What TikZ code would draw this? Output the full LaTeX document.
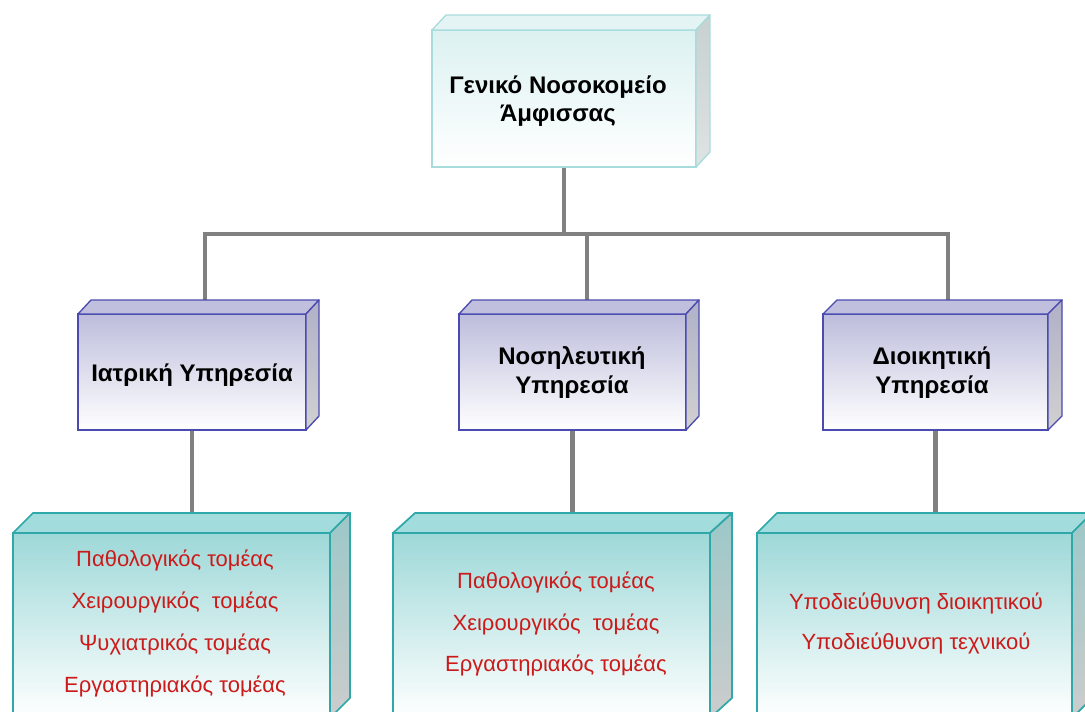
\documentclass[tikz,border=0pt]{standalone}
\usepackage{fontspec}
\setmainfont{Liberation Sans}
\usetikzlibrary{calc}
\pgfdeclarelayer{bg}
\pgfsetlayers{bg,main}
\definecolor{conncol}{HTML}{808080}
\definecolor{redtxt}{HTML}{CC1A1A}
\definecolor{topedge}{HTML}{A8DCDC}
\definecolor{topfill}{HTML}{DCF1F1}
\definecolor{topface}{HTML}{E4F4F4}
\definecolor{topside}{HTML}{C8D0D0}
\definecolor{midedge}{HTML}{4A4AB0}
\definecolor{midfill}{HTML}{BDBDDC}
\definecolor{midface}{HTML}{C0C0DE}
\definecolor{midside}{HTML}{B0B0C8}
\definecolor{lowedge}{HTML}{2EA8A8}
\definecolor{lowfill}{HTML}{9ED8D8}
\definecolor{lowface}{HTML}{A2DCDC}
\definecolor{lowside}{HTML}{9CC8C8}
\tikzset{
  sz/.style 2 args={minimum width=#1*0.75pt,minimum height=#2*0.75pt},
  front/.style={inner sep=0pt,outer sep=0pt,line width=1pt},
  topbox/.style={front,draw=topedge,top color=topfill,bottom color=white},
  midbox/.style={front,draw=midedge,top color=midfill,bottom color=white},
  lowbox/.style={front,draw=lowedge,line width=1.3pt,top color=lowfill,bottom color=white},
  topboxT/.style={draw=topedge,fill=topface,line width=1pt,line join=round},
  topboxS/.style={draw=topedge,top color=topside,bottom color=topside!60,line width=1pt,line join=round},
  midboxT/.style={draw=midedge,fill=midface,line width=1pt,line join=round},
  midboxS/.style={draw=midedge,top color=midside,bottom color=black!18,line width=1pt,line join=round},
  lowboxT/.style={draw=lowedge,fill=lowface,line width=1.3pt,line join=round},
  lowboxS/.style={draw=lowedge,top color=lowside,bottom color=black!20,line width=1.3pt,line join=round},
  conn/.style={draw=conncol,line width=3.2pt},
  btitle/.style={font=\bfseries\fontsize{18pt}{21.5pt}\selectfont,align=center,inner sep=0pt},
  rtext/.style={text=redtxt,align=center,inner sep=0pt},
}
\newcommand\cubefaces[4]{%
  \path[#4T] (#1.north west) -- ++(#2,-#3) -- ($(#1.north east)+(#2*0.75pt,#3*0.75pt)$) -- (#1.north east) -- cycle;
  \path[#4S] (#1.north east) -- ($(#1.north east)+(#2*0.75pt,#3*0.75pt)$) -- ($(#1.south east)+(#2*0.75pt,#3*0.75pt)$) -- (#1.south east) -- cycle;}
\begin{document}
\begin{tikzpicture}[x=0.75pt,y=-0.75pt]
\useasboundingbox (0,0) rectangle (1085,711);
% front faces
\node[topbox,sz={264}{137}] (top) at (564,98.5) {};
\node[midbox,sz={228}{116}] (med) at (192,372) {};
\node[midbox,sz={227}{116}] (nur) at (572.5,372) {};
\node[midbox,sz={225}{116}] (adm) at (935.5,372) {};
\node[lowbox,sz={317}{185}] (medsub) at (171.5,625.5) {};
\node[lowbox,sz={317}{185}] (nursub) at (551.5,625.5) {};
\node[lowbox,sz={315}{185}] (admsub) at (914.5,625.5) {};
% top and side faces
\cubefaces{top}{14}{15}{topbox}
\cubefaces{med}{13}{14}{midbox}
\cubefaces{nur}{13}{14}{midbox}
\cubefaces{adm}{14}{14}{midbox}
\cubefaces{medsub}{20}{20}{lowbox}
\cubefaces{nursub}{22}{20}{lowbox}
\cubefaces{admsub}{20}{20}{lowbox}
% texts
\node[btitle,font=\bfseries\fontsize{18pt}{21pt}\selectfont] (toptxt) at (558,101) {Γενικό Νοσοκομείο\\Άμφισσας};
\node[btitle] (medtxt) at (192,375) {Ιατρική Υπηρεσία};
\node[btitle] (nurtxt) at (572,372.5) {Νοσηλευτική\\Υπηρεσία};
\node[btitle] (admtxt) at (932,372.5) {Διοικητική\\Υπηρεσία};
\node[rtext,font=\fontsize{16.5pt}{31.7pt}\selectfont] (medsubtxt) at (175,623.5)
  {Παθολογικός τομέας\\Χειρουργικός\ \ τομέας\\Ψυχιατρικός τομέας\\Εργαστηριακός τομέας};
\node[rtext,font=\fontsize{16.5pt}{30.8pt}\selectfont] (nursubtxt) at (556,624)
  {Παθολογικός τομέας\\Χειρουργικός\ \ τομέας\\Εργαστηριακός τομέας};
\node[rtext,font=\fontsize{16.5pt}{30pt}\selectfont] (admsubtxt) at (916,623)
  {Υποδιεύθυνση διοικητικού\\Υποδιεύθυνση τεχνικού};
% connectors
\coordinate (busL) at (205,234);
\coordinate (busM) at (587,234);
\coordinate (busR) at (948,234);
\begin{pgfonlayer}{bg}
\draw[conn] (top.south) -- (top.south |- busL);
\draw[conn,line cap=rect] (busL) -- (busR);
\draw[conn] (busL) -- (busL |- med.north);
\draw[conn] (busM) -- (busM |- nur.north);
\draw[conn] (busR) -- (busR |- adm.north);
\draw[conn] (med.south) -- (med.south |- medsub.north);
\draw[conn] (nur.south) -- (nur.south |- nursub.north);
\draw[conn] (adm.south) -- (adm.south |- admsub.north);
\end{pgfonlayer}
\end{tikzpicture}
\end{document}
